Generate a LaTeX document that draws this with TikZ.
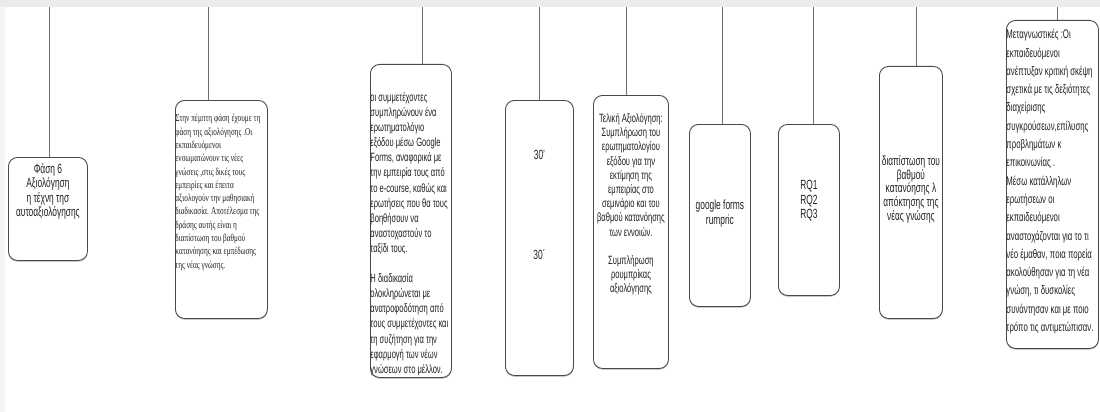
\documentclass[tikz,border=0pt]{standalone}
\usepackage{fontspec}
\setmainfont{Liberation Sans}[FakeStretch=0.63]
\newfontfamily\cardserif{Liberation Serif}[FakeStretch=0.69]
\usepackage{xcolor}
\usetikzlibrary{positioning, shadows}

\definecolor{cardline}{HTML}{4A4A4A}
\definecolor{wireline}{HTML}{6E6E6E}
\definecolor{bandgray}{HTML}{EBEBEB}
\definecolor{inkgray}{HTML}{202020}

% fixed-size box body: width, height, top padding, text
\newcommand{\cardtext}[4]{\begin{minipage}[t][#2][t]{#1}\vspace*{#3}#4\end{minipage}}

\begin{document}
\begin{tikzpicture}[x=1pt, y=-1pt,
  card/.style={draw=cardline, fill=white, line width=0.9pt, rounded corners=9pt, inner sep=0pt,
    anchor=north west, text=inkgray,
    drop shadow={shadow xshift=0pt, shadow yshift=-1.3pt, fill=black, opacity=0.22}},
  wire/.style={draw=wireline, line width=0.8pt},
  big/.style={font=\fontsize{13.3}{14.3}\selectfont},
  small/.style={font=\fontsize{12}{15.1}\selectfont},
  tiny/.style={font=\cardserif\fontsize{10.5}{13.3}\selectfont}
]

\useasboundingbox (0,0) rectangle (1100,412);
\fill[bandgray] (0,0) rectangle (1100,7);
\fill[bandgray!50] (0,7) rectangle (5,412);

\node[card, big] (phase) at (8,157) {\cardtext{79pt}{103pt}{6pt}{\centering
  Φάση 6\\Αξιολόγηση\\ η τέχνη τησ\\αυτοαξιολόγησης}};

\node[card, tiny] (intro) at (175,100) {\cardtext{92pt}{218pt}{14pt}{\raggedright
  Στην πέμπτη φάση έχουμε τη\\
  φάση της αξιολόγησης .Οι\\
  εκπαιδευόμενοι\\
  ενσωματώνουν τις νέες\\
  γνώσεις ,στις δικές τους\\
  εμπειρίες και έπειτα\\
  αξιολογούν την μαθησιακή\\
  διαδικασία. Αποτέλεσμα της\\
  δράσης αυτής είναι η\\
  διαπίστωση του βαθμού\\
  κατανόησης και εμπέδωσης\\
  της νέας γνώσης.}};

\node[card, small] (steps) at (370,64) {\cardtext{81pt}{313pt}{28pt}{\raggedright
  οι συμμετέχοντες\\
  συμπληρώνουν ένα\\
  ερωτηματολόγιο\\
  εξόδου μέσω Google\\
  Forms, αναφορικά με\\
  την εμπειρία τους από\\
  το e-course, καθώς και\\
  ερωτήσεις που θα τους\\
  βοηθήσουν να\\
  αναστοχαστούν το\\
  ταξίδι τους.\\[15.1pt]
  Η διαδικασία\\
  ολοκληρώνεται με\\
  ανατροφοδότηση από\\
  τους συμμετέχοντες και\\
  τη συζήτηση για την\\
  εφαρμογή των νέων\\
  γνώσεων στο μέλλον.}};

\node[card, big] (time) at (505,100) {\cardtext{68pt}{275pt}{50pt}{\centering
  30'\\[85.5pt]30΄}};

\node[card, small, font=\fontsize{12}{14.2}\selectfont] (final) at (593,95) {\cardtext{75pt}{273pt}{18pt}{\centering
  Τελική Αξιολόγηση:\\
  Συμπλήρωση του\\
  ερωτηματολογίου\\
  εξόδου για την\\
  εκτίμηση της\\
  εμπειρίας στο\\
  σεμινάριο και του\\
  βαθμού κατανόησης\\
  των εννοιών.\\[14.2pt]
  Συμπλήρωση\\
  ρουμπρίκας\\
  αξιολόγησης}};

\node[card, big, font=\fontsize{13.3}{15.5}\selectfont] (tools) at (689,124) {\cardtext{61pt}{182pt}{75pt}{\centering
  google forms\\rumpric}};

\node[card, big] (rq) at (778,124) {\cardtext{61pt}{171pt}{56pt}{\centering
  RQ1\\RQ2\\RQ3}};

\node[card, font=\fontsize{13.2}{12.4}\selectfont] (goal) at (879,66) {\cardtext{63pt}{252pt}{89pt}{\centering
  διαπίστωση του\\βαθμού\\κατανόησης λ\\απόκτησης της\\νέας γνώσης}};

\node[card, font=\fontsize{12.4}{18.3}\selectfont] (meta) at (1006,20) {\cardtext{92pt}{328pt}{9pt}{\raggedright
  Μεταγνωστικές :Οι\\
  εκπαιδευόμενοι\\
  ανέπτυξαν κριτική σκέψη\\
  σχετικά με τις δεξιότητες\\
  διαχείρισης\\
  συγκρούσεων,επίλυσης\\
  προβλημάτων κ\\
  επικοινωνίας .\\
  Μέσω κατάλληλων\\
  ερωτήσεων οι\\
  εκπαιδευόμενοι\\
  αναστοχάζονται για το τι\\
  νέο έμαθαν, ποια πορεία\\
  ακολούθησαν για τη νέα\\
  γνώση, τι δυσκολίες\\
  συνάντησαν και με ποιο\\
  τρόπο τις αντιμετώπισαν.}};

% hanging lines from the top band
\coordinate (t1) at (49,7);
\coordinate (t2) at (208,7);
\coordinate (t3) at (422,7);
\coordinate (t4) at (539,7);
\coordinate (t5) at (626,7);
\coordinate (t6) at (722,7);
\coordinate (t7) at (813,7);
\coordinate (t8) at (916,7);
\coordinate (t9) at (1057,7);

\draw[wire] (t1) -- (t1 |- phase.north);
\draw[wire] (t2) -- (t2 |- intro.north);
\draw[wire] (t3) -- (t3 |- steps.north);
\draw[wire] (t4) -- (t4 |- time.north);
\draw[wire] (t5) -- (t5 |- final.north);
\draw[wire] (t6) -- (t6 |- tools.north);
\draw[wire] (t7) -- (t7 |- rq.north);
\draw[wire] (t8) -- (t8 |- goal.north);
\draw[wire] (t9) -- (t9 |- meta.north);

\end{tikzpicture}
\end{document}
